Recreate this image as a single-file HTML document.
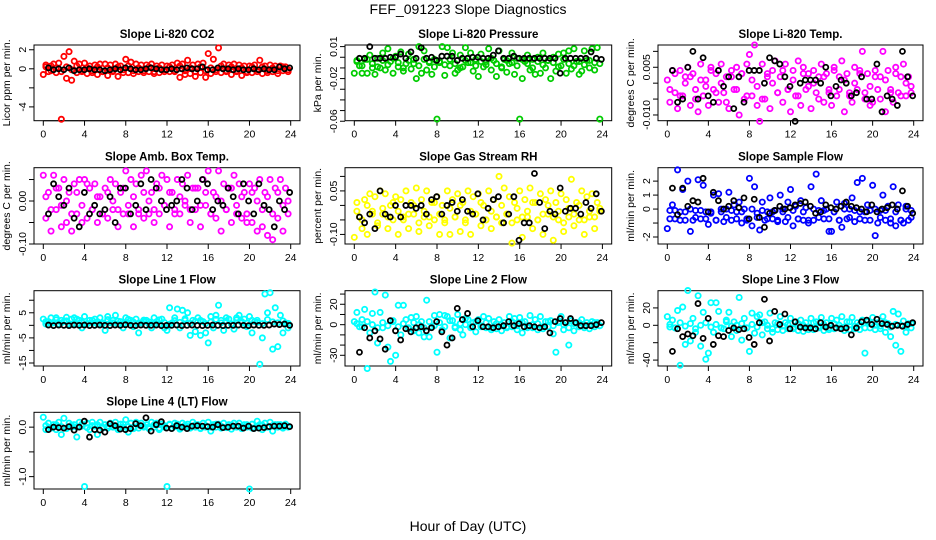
<!DOCTYPE html>
<html><head><meta charset="utf-8"><style>
html,body{margin:0;padding:0;background:#fff;}
svg{display:block;font-family:"Liberation Sans",Arial,sans-serif;}
</style></head><body>
<svg id="chart" width="936" height="540" viewBox="0 0 936 540">
<rect width="936" height="540" fill="#fff"/>
<text x="468" y="14" text-anchor="middle" font-size="14">FEF_091223  Slope Diagnostics</text>
<text x="468" y="531" text-anchor="middle" font-size="14">Hour of Day (UTC)</text>
</svg>
<script>
const xTicks = [0,4,8,12,16,20,24];
const co2C = [-0.6,0.4,-0.3,0.3, 0.5,-0.4,0.6,-5.3, 1.3,-1.0,1.8,-1.2, 0.8,-0.4,0.5,-0.3, 0.6,-0.5,0.3,-0.4, 0.4,-0.6,0.5,-0.3, 0.5,-0.7,0.4,-0.3, 0.5,-0.8,0.3,-0.4, 1.0,-0.4,0.7,-0.5, 0.5,-0.3,0.4,-0.4, 0.4,-0.3,0.5,-0.5, 0.3,-0.4,0.4,-0.3, 0.3,-0.3,0.4,-0.3, 0.6,-0.9,0.5,-0.6, 0.9,-0.5,0.4,-0.8, 0.5,-0.4,0.6,-0.9, 1.6,-0.5,1.0,-0.3, 2.2,-0.4,0.5,-0.3, 0.4,-0.6,0.5,-0.3, 0.4,-0.7,0.3,-0.4, 0.3,-0.4,0.4,-0.3, 0.9,-0.5,0.3,-0.4, 0.4,-0.3,0.3,-0.5, 0.3,-0.2,0.2,-0.3];
const co2B = [0.2,-0.2,0.1,-0.3,0.2,-0.1,0.3,-0.2,0.1,-0.2,0.2,-0.3,0.1,-0.2,0.2,-0.1,0.3,-0.2,0.1,-0.2,0.2,-0.3,0.1,-0.1,0.2,-0.2,0.3,-0.2,0.1,-0.3,0.2,-0.2,0.1,-0.1,0.3,-0.2,0.2,-0.2,0.1,-0.3,0.2,-0.1,0.2,-0.2,0.1,-0.2,0.2,-0.1];
const co2K = [0.1,-0.1,0,-0.1,0.1,-0.2,-0.1,-0.1,0,-0.1,-0.1,-0.2,-0.1,0,-0.1,0.1,0,-0.1,-0.1,0,0.1,0,-0.1,-0.1,0,-0.1,0,0.1,0,0,0.2,-0.1,-0.1,0.1,0,0,-0.1,0,-0.1,-0.1,0,-0.1,0,-0.1,-0.1,0.2,0,0.1];
const presC = [-0.015,-0.003,-0.008,-0.015, -0.002,-0.015,0.002,-0.010, -0.016,-0.001,-0.010,0.004, -0.012,0.008,-0.004,-0.015, 0.001,-0.009,0.005,-0.013, -0.006,0.003,-0.011,-0.002, -0.020,0.010,-0.015,0.006, -0.012,-0.004,-0.016,-0.002, -0.058,-0.005,0.010,-0.017, 0.009,-0.008,0.004,-0.015, -0.012,0.002,-0.009,0.009, -0.005,0.004,-0.013,-0.002, -0.018,0.003,-0.009,-0.004, 0.008,-0.012,-0.003,-0.018, 0.006,-0.010,-0.002,-0.014, -0.006,0.004,-0.016,-0.001, -0.058,-0.020,-0.004,0.002, -0.012,-0.002,-0.016,0.000, -0.015,0.004,-0.010,-0.003, -0.020,0.000,-0.013,0.003, -0.008,0.004,-0.015,0.006, -0.011,0.008,-0.004,-0.016, -0.013,0.006,-0.003,-0.010, 0.008,-0.012,0.009,-0.058];
const presB = [-0.004,-0.008,-0.002,-0.006,-0.009,-0.003,-0.007,-0.001,-0.005,-0.010,-0.003,-0.006,-0.008,-0.002,-0.005,-0.009,-0.004,-0.007,-0.002,-0.006,-0.010,-0.003,-0.005,-0.008,-0.004,-0.007,-0.001,-0.006,-0.009,-0.003,-0.005,-0.008,-0.002,-0.006,-0.010,-0.004,-0.007,-0.003,-0.005,-0.009,-0.002,-0.006,-0.008,-0.004,-0.007,-0.003,-0.005,-0.006];
const presK = [-0.001,-0.001,0.010,-0.001,-0.001,-0.001,0.000,0.000,0.003,-0.001,0.005,-0.001,0.009,-0.001,0.000,-0.003,0.001,0.001,0.001,-0.003,-0.001,-0.001,0.000,0.000,-0.001,-0.001,0.002,0.006,-0.001,-0.001,0.001,-0.001,-0.001,-0.001,-0.001,-0.001,-0.001,-0.001,-0.001,-0.015,-0.001,-0.001,-0.001,-0.001,-0.001,0.005,-0.001,-0.002];
const tempC = [0.001,-0.006,0.004,-0.003, -0.008,0.004,-0.004,0.002, 0.005,-0.007,0.003,-0.002, -0.009,0.006,-0.004,0.001, -0.007,0.005,-0.002,0.003, -0.006,0.006,-0.003,0.002, -0.008,0.004,-0.002,0.005, -0.010,0.003,-0.005,0.006, 0.009,-0.004,0.012,-0.007, -0.012,0.006,-0.005,0.003, -0.008,0.004,0.007,-0.003, 0.002,-0.006,0.006,-0.002, -0.009,0.004,-0.004,0.007, -0.007,0.005,-0.002,0.003, -0.008,0.004,-0.003,0.002, 0.006,-0.006,0.003,-0.002, -0.007,0.005,-0.004,0.002, 0.007,-0.009,0.003,-0.003, -0.006,0.005,-0.002,0.004, 0.010,-0.005,0.003,-0.007, -0.006,0.004,-0.002,0.002, 0.010,-0.009,0.004,-0.003, -0.006,0.005,-0.003,0.002, 0.006,-0.004,0.002,-0.003];
const tempB = [-0.002,0.003,-0.004,0.000,0.002,-0.005,0.001,-0.001,0.004,-0.003,0.000,-0.006,0.002,-0.002,0.003,-0.004,0.001,-0.001,-0.005,0.002,0.000,-0.003,0.004,-0.002,0.001,-0.004,0.003,-0.001,0.000,-0.005,0.002,-0.003,0.004,-0.002,0.001,-0.004,0.000,0.003,-0.003,-0.001,0.002,-0.005,0.001,-0.002,0.003,-0.004,0.000,-0.001];
const tempK = [0.004,-0.006,-0.005,0.005,0.010,-0.005,0.008,-0.004,-0.006,0.004,-0.001,0.002,-0.008,0.002,-0.006,0.004,0.004,0.004,0.000,0.008,0.007,0.006,0.002,-0.001,-0.012,0.000,0.001,0.001,0.001,0.000,0.005,-0.004,-0.001,0.001,0.000,-0.004,-0.003,0.002,-0.005,-0.005,0.006,-0.009,-0.004,-0.005,-0.007,0.010,0.002,-0.004];
const boxC = [0.06,-0.04,0.02,-0.07, 0.06,-0.02,0.03,-0.06, 0.05,-0.05,0.02,-0.07, 0.04,-0.03,0.05,-0.05, 0.05,-0.04,0.03,-0.02, 0.04,-0.05,0.01,-0.03, 0.03,-0.04,0.05,-0.02, 0.04,-0.06,0.02,-0.03, 0.07,-0.03,0.05,-0.06, 0.04,-0.02,0.06,-0.04, 0.07,-0.03,0.02,-0.05, 0.04,-0.03,0.06,-0.01, 0.05,-0.06,0.02,-0.02, 0.05,-0.03,0.04,-0.01, 0.06,-0.05,0.03,-0.02, 0.03,-0.06,0.05,-0.01, 0.07,-0.03,0.02,-0.04, 0.07,-0.07,0.04,-0.02, 0.03,-0.05,0.06,-0.03, 0.04,-0.04,0.02,-0.05, 0.04,-0.05,0.03,-0.07, 0.05,-0.06,0.02,-0.08, 0.05,-0.09,0.03,-0.04, 0.05,-0.07,0.03,-0.03];
const boxB = [0.01,-0.02,0.03,-0.01,0.00,-0.03,0.02,-0.01,0.04,-0.02,0.01,-0.03,0.02,0.00,-0.02,0.03,-0.01,0.01,-0.03,0.02,0.00,-0.02,0.03,-0.01,0.02,-0.03,0.01,0.00,-0.02,0.03,-0.01,0.02,-0.03,0.01,0.00,-0.02,0.03,-0.01,0.01,-0.03,0.02,0.00,-0.02,0.01,-0.03,0.02,-0.01,0.00];
const boxK = [-0.03,0.04,0.01,-0.01,0.03,-0.04,-0.06,0.02,-0.03,-0.01,-0.03,-0.02,0.01,-0.05,0.03,0.03,-0.03,-0.01,0.04,-0.02,0.05,0.03,0.00,-0.02,-0.01,0.00,0.05,0.03,-0.02,0.00,0.05,0.04,-0.02,0.00,-0.01,0.03,0.01,-0.03,0.04,0.00,-0.03,0.04,-0.01,-0.02,-0.06,0.00,-0.02,0.02];
const rhC = [-0.11,0.01,-0.04,-0.08, 0.02,-0.10,0.04,-0.02, 0.03,-0.07,0.05,-0.03, 0.04,-0.08,0.00,-0.05, 0.03,-0.10,0.02,-0.04, 0.05,-0.08,0.01,-0.03, 0.06,-0.09,0.02,-0.04, 0.05,-0.07,0.01,-0.05, 0.03,-0.10,0.00,-0.06, 0.05,-0.10,0.02,-0.04, 0.04,-0.09,0.01,-0.05, 0.05,-0.10,0.03,-0.03, 0.04,-0.07,0.00,-0.05, 0.05,-0.08,0.02,-0.04, 0.10,-0.06,0.06,-0.03, 0.03,-0.13,0.01,-0.05, 0.05,-0.11,0.02,-0.04, 0.06,-0.08,0.01,-0.05, 0.04,-0.10,0.02,-0.03, 0.05,-0.12,0.01,-0.05, 0.04,-0.09,0.02,-0.04, 0.09,-0.07,0.01,-0.05, 0.05,-0.10,0.03,-0.04, 0.04,-0.08,0.01,-0.02];
const rhB = [-0.02,-0.05,0.00,-0.03,-0.06,-0.01,-0.04,0.01,-0.02,-0.05,-0.03,0.00,-0.06,-0.02,-0.04,0.01,-0.03,-0.05,-0.01,-0.04,0.00,-0.06,-0.02,-0.03,0.01,-0.05,-0.02,-0.04,0.00,-0.03,-0.06,-0.01,-0.04,-0.02,0.01,-0.05,-0.03,0.00,-0.04,-0.02,-0.06,-0.01,-0.03,0.00,-0.05,-0.02,-0.04,-0.01];
const rhK = [-0.04,-0.06,-0.03,-0.08,0.05,-0.03,-0.04,0.00,-0.04,0.00,0.00,-0.01,0.00,-0.03,0.02,0.03,-0.03,0.00,0.01,-0.02,0.02,-0.02,-0.03,0.04,-0.05,-0.01,0.02,0.03,-0.06,-0.03,0.03,-0.12,-0.06,-0.06,0.11,0.01,-0.08,-0.02,-0.03,0.06,-0.02,-0.01,-0.01,-0.03,0.01,-0.01,0.04,-0.02];
const flowC = [-1.4,-0.7,0.3,-0.1, 2.8,-0.8,1.4,-0.2, 2.0,-1.6,-0.8,-0.1, 2.1,-0.7,1.7,-0.2, -1.1,-0.3,1.0,-0.8, 1.1,-0.2,-0.9,0.0, 1.2,-0.8,0.3,-0.2, 0.5,-1.0,0.0,-0.7, 2.2,-1.2,1.6,-0.3, -1.5,0.5,-0.8,-0.2, 0.8,-0.7,-0.1,-0.9, 1.0,-0.2,-0.9,0.5, 1.4,-1.2,0.2,-0.7, 0.6,-0.8,0.1,-1.0, 1.6,-0.8,2.5,-0.1, 0.6,-0.7,0.0,-1.6, -1.6,-0.2,0.5,-0.8, -1.3,0.4,-0.7,0.0, 0.8,-0.9,1.9,-0.2, 2.2,-0.8,0.3,-0.1, 1.7,-1.9,-1.0,-0.1, 1.0,-0.8,0.2,-1.0, 1.6,-1.2,0.3,-0.8, -1.0,0.2,-0.8,-0.1];
const flowB = [-0.1,-0.7,-0.2,-0.8,0.0,-0.6,-0.1,-0.7,-0.2,-0.8,0.0,-0.6,-0.1,-0.7,-0.2,-0.8,0.0,-0.6,-0.1,-0.7,-0.2,-0.8,0.0,-0.6,-0.1,-0.7,-0.2,-0.8,0.0,-0.6,-0.1,-0.7,-0.2,-0.8,0.0,-0.6,-0.1,-0.7,-0.2,-0.8,0.0,-0.6,-0.1,-0.7,-0.2,-0.8,0.0,-0.6];
const flowK = [1.5,-0.4,1.5,0.2,0.6,0.5,2.2,-0.2,1.2,0.6,0.0,0.2,0.6,0.1,0.8,-0.7,0.7,-0.6,-1.3,-0.3,-0.1,0.2,0.0,0.1,0.3,0.4,0.5,0.2,-0.3,-0.2,0.3,0.1,0.0,0.2,0.5,0.2,0.1,0.0,-0.2,0.3,-0.2,0.0,0.1,0.3,0.0,1.3,0.2,-0.3];
const l1C = [2.5,0.5,1.5,3.0, 1.0,3.0,0.5,2.0, 1.5,3.2,0.5,2.5, 3.0,0.5,2.0,-1.0, 3.5,0.5,2.0,1.0, 2.5,0.5,3.0,1.0, -2.0,3.5,1.0,2.0, 4.0,0.5,1.5,-1.0, 3.0,1.0,2.0,-0.5, 2.5,-3.0,1.0,1.5, 2.0,0.5,-1.0,3.0, 1.5,0.5,2.5,-1.0, -2.0,7.0,1.0,3.0, 6.5,-1.0,6.0,2.0, 5.0,-4.0,2.0,-2.5, 3.0,-4.0,1.5,-3.0, -7.0,3.5,-1.0,4.0, 8.0,2.0,-2.0,3.0, 2.5,0.5,-1.5,3.0, 4.0,1.0,2.5,-0.5, 3.5,-3.0,1.5,2.0, -15.5,-5.0,12.5,5.0, 13.0,-9.5,7.0,-8.5, 4.0,-3.0,1.0,-1.0];
const l1B = [1.5,0.8,2.2,1.0,1.8,0.5,2.5,1.2,0.8,2.0,1.5,0.6,2.3,1.0,1.7,0.7,2.4,1.3,0.9,2.1,1.4,0.6,2.2,1.1,0.5,1.9,1.2,2.6,0.8,1.6,2.0,0.7,1.3,2.4,1.0,1.8,0.6,2.2,1.5,0.9,2.0,1.2,0.7,2.3,1.4,1.0,1.8,0.8];
const l1K = [0.1,-0.1,0.1,0,-0.1,0.1,0,0.1,-0.1,0,0.1,0,-0.1,0.1,0,0.2,0,-0.1,0.1,0,0,0.1,-0.1,0,0,0.1,-0.1,0,0.1,0,-0.1,0,0.1,0,-0.1,0,0,0.1,0,-0.1,0.1,0,0,0.1,0.5,0.3,0.5,0];
const l2C = [3,12,-2,5, 15,-43,-8,11, 32,-18,12,-3, 29,-22,-36,3, -30,19,-10,19, 5,-3,7,-6, 8,-8,3,-12, 24,-12,-2,9, -27,10,-5,9, 8,-13,4,-2, 10,-5,-10,6, 5,-3,2,-7, 5,-2,8,-3, 6,-5,3,-4, 5,-6,2,-3, 8,-2,6,-5, 7,-8,3,-2, 9,-3,5,-5, 8,-4,3,-2, 4,-9,-27,3, 8,-5,2,-20, 4,-6,2,-2, 5,-3,2,-4, 3,-2,2,-1];
const l2B = [1,-2,3,0,-3,2,-1,4,-2,1,-4,2,0,-3,3,-1,2,-2,4,-3,1,0,-2,3,-1,2,-3,1,0,-2,3,-1,2,-3,0,1,-2,3,-1,2,0,-3,1,2,-1,0,2,-1];
const l2K = [-27,-3,-13,-6,-14,-24,4,-6,-15,-4,-7,-3,-2,-6,-3,3,-7,-20,-13,16,5,11,-2,4,-2,-2,-3,-2,-1,3,-1,1,-2,-1,-2,-3,-2,-8,3,6,2,6,2,-1,-1,-1,0,2];
const l3C = [10,-2,6,-3, 17,-46,21,-22, 40,-18,8,-8, 34,-24,15,-39, -32,26,-8,26, 16,-3,-4,6, 15,-13,4,-6, 32,-17,8,-3, -30,14,-9,10, 12,-11,4,-4, 14,-8,3,-5, 10,-6,3,-4, 8,-4,4,-6, 6,-7,3,-5, 8,-5,4,-3, 9,-6,3,-5, 8,-4,6,-3, 10,-6,4,-5, 9,-4,3,-5, 6,-32,4,-3, 9,-5,3,-4, 10,-8,2,-13, 16,-23,13,-30, 5,-8,2,-3];
const l3B = [1,-3,3,-1,2,-4,0,3,-2,1,-3,4,-1,0,2,-3,1,-2,3,0,-4,2,-1,1,-3,2,0,-2,3,-1,1,-3,2,0,-2,4,-1,1,-3,2,0,-1,3,-2,1,0,-1,2];
const l3K = [-30,-4,-13,-10,-12,25,-15,8,-22,-12,-13,-6,-3,-5,-4,-14,-22,3,30,-18,16,1,13,-4,4,-2,-3,-3,-4,3,-2,0,-3,-4,-3,-11,-3,4,6,1,7,2,1,-1,0,-1,1,3];
const l4C = [0.2,-0.05,0.08,0.0, 0.05,-0.05,0.1,-0.15, 0.18,-0.02,0.08,0.0, 0.05,-0.2,0.1,0.02, -1.2,0.08,-0.05,0.1, 0.02,-0.15,0.1,0.0, 0.05,-0.02,0.08,0.0, 0.1,-0.05,0.06,0.0, 0.15,-0.1,0.08,0.0, 0.1,-0.02,0.08,0.0, 0.05,-0.03,0.1,0.0, 0.08,-0.05,0.06,0.0, -1.2,0.05,-0.02,0.08, 0.06,-0.04,0.08,0.0, 0.06,-0.02,0.1,0.0, 0.05,-0.03,0.08,0.0, 0.1,-0.08,0.05,0.0, 0.06,-0.02,0.08,0.0, 0.05,-0.04,0.08,0.0, 0.08,-0.03,0.05,0.0, -1.25,0.06,-0.02,0.12, 0.05,-0.05,0.08,0.0, 0.1,-0.08,0.05,0.0, 0.05,-0.02,0.06,0.0];
const l4B = [0.03,-0.02,0.05,0.01,-0.03,0.04,0.0,0.06,-0.01,0.03,0.05,-0.02,0.02,0.04,-0.01,0.06,0.01,-0.03,0.04,0.02,0.0,0.05,-0.02,0.03,0.06,0.01,-0.01,0.04,0.02,0.05,-0.02,0.03,0.0,0.06,0.02,-0.01,0.04,0.03,0.01,0.05,-0.02,0.02,0.04,0.0,0.03,0.05,0.01,0.02];
const l4K = [-0.05,0.0,-0.01,-0.02,0.01,-0.06,0.0,0.12,-0.2,-0.05,-0.06,-0.1,0.07,0.03,-0.04,-0.05,-0.03,0.07,0.03,0.19,-0.08,0.05,0.11,-0.02,-0.03,0.03,0.0,-0.03,0.02,0.03,0.02,0.01,0.0,0.05,-0.01,0.0,0.02,0.02,-0.02,0.02,-0.03,-0.02,-0.01,0.01,0.02,0.02,0.03,0.01];

const panels = [
 {name:'co2',title:'Slope Li-820 CO2',ylab:'Licor ppm per min.',col:0,row:0,y0:-5.45,y1:2.5,ticks:[2,0,-2,-4],labels:['2','0','','-4'],color:'#ff0000',c:co2C,b:co2B,k:co2K},
 {name:'pressure',title:'Slope Li-820 Pressure',ylab:'kPa per min.',col:1,row:0,y0:-0.0595,y1:0.0115,ticks:[0.01,0,-0.01,-0.02,-0.03,-0.04,-0.05,-0.06],labels:['0.01','','','-0.02','','','','-0.06'],color:'#00cc00',c:presC,b:presB,k:presK},
 {name:'li820-temp',title:'Slope Li-820 Temp.',ylab:'degrees C per min.',col:2,row:0,y0:-0.0118,y1:0.012,ticks:[0.01,0.005,0,-0.005,-0.01],labels:['','0.005','','','-0.010'],color:'#ff00ff',c:tempC,b:tempB,k:tempK},
 {name:'amb-box-temp',title:'Slope Amb. Box Temp.',ylab:'degrees C per min.',col:0,row:1,y0:-0.1,y1:0.0775,ticks:[0.05,0,-0.05,-0.1],labels:['','0.00','','-0.10'],color:'#ff00ff',c:boxC,b:boxB,k:boxK},
 {name:'gas-rh',title:'Slope Gas Stream RH',ylab:'percent per min.',col:1,row:1,y0:-0.133,y1:0.13,ticks:[0.1,0.05,0,-0.05,-0.1],labels:['','0.05','','','-0.10'],color:'#ffff00',c:rhC,b:rhB,k:rhK},
 {name:'sample-flow',title:'Slope Sample Flow',ylab:'ml/min per min.',col:2,row:1,y0:-2.5,y1:2.96,ticks:[2,1,0,-1,-2],labels:['2','1','0','','-2'],color:'#0000ff',c:flowC,b:flowB,k:flowK},
 {name:'line1-flow',title:'Slope Line 1 Flow',ylab:'ml/min per min.',col:0,row:2,y0:-16.2,y1:13.8,ticks:[10,5,0,-5,-10,-15],labels:['','5','','-5','','-15'],color:'#00ffff',c:l1C,b:l1B,k:l1K},
 {name:'line2-flow',title:'Slope Line 2 Flow',ylab:'ml/min per min.',col:1,row:2,y0:-40.5,y1:33.3,ticks:[30,20,10,0,-10,-20,-30],labels:['','20','','0','','','-30'],color:'#00ffff',c:l2C,b:l2B,k:l2K},
 {name:'line3-flow',title:'Slope Line 3 Flow',ylab:'ml/min per min.',col:2,row:2,y0:-46.8,y1:39.8,ticks:[20,0,-20,-40],labels:['20','0','','-40'],color:'#00ffff',c:l3C,b:l3B,k:l3K},
 {name:'line4-flow',title:'Slope Line 4 (LT) Flow',ylab:'ml/min per min.',col:0,row:3,y0:-1.25,y1:0.3,ticks:[0,-0.5,-1],labels:['0.0','','-1.0'],color:'#00ffff',c:l4C,b:l4B,k:l4K}
];
const colL=[34,345,658], colR=[300,611.7,923];
const rowT=[45,167.7,290.7,412.3], rowB=[120.7,244,366,489];
const NS='http://www.w3.org/2000/svg';
const svg=document.getElementById('chart');
function mk(tag,attrs,parent){const e=document.createElementNS(NS,tag);for(const a in attrs)e.setAttribute(a,attrs[a]);parent.appendChild(e);return e;}
panels.forEach(p=>{
 const L=colL[p.col],R=colR[p.col],T=rowT[p.row],B=rowB[p.row];
 const xa=L+9.3,xb=R-9.3;
 const sx=v=>xa+(v/24)*(xb-xa);
 const sy=v=>B-(v-p.y0)/(p.y1-p.y0)*(B-T);
 const g=mk('g',{},svg);
 
 
 const t=mk('text',{x:(L+R)/2,y:T-7,'text-anchor':'middle','font-size':'11.5','font-weight':'bold'},g);
 t.textContent=p.title;
 
 
 const yl=mk('text',{x:0,y:0,'text-anchor':'middle','font-size':'10.5',transform:`translate(${L-24},${(T+B)/2}) rotate(-90)`},g);
 yl.textContent=p.ylab;
 
 
 const box=mk('rect',{x:L,y:T,width:R-L,height:B-T,fill:'none',stroke:'#000','stroke-width':1},g);
 
 
 const xax=mk('g',{},g);
 
 
 mk('line',{x1:sx(0),x2:sx(24),y1:B,y2:B,stroke:'#000'},xax);
 xTicks.forEach(v=>{
  mk('line',{x1:sx(v),x2:sx(v),y1:B,y2:B+5,stroke:'#000'},xax);
  const tl=mk('text',{x:sx(v),y:B+17,'text-anchor':'middle','font-size':'10.5'},xax);
  tl.textContent=v;
  
  
 });
 const yax=mk('g',{},g);
 
 
 const tk=p.ticks.filter(v=>v>=p.y0-1e-9&&v<=p.y1+1e-9);
 mk('line',{x1:L,x2:L,y1:sy(Math.max(...tk)),y2:sy(Math.min(...tk)),stroke:'#000'},yax);
 p.ticks.forEach((v,i)=>{
  const yy=Math.min(Math.max(sy(v),T-1),B+1);
  mk('line',{x1:L-5,x2:L,y1:yy,y2:yy,stroke:'#000'},yax);
  if(p.labels[i]){
   const tl=mk('text',{x:0,y:0,'text-anchor':'middle','font-size':'10.5',transform:`translate(${L-8},${yy}) rotate(-90)`},yax);
   tl.textContent=p.labels[i];
   
   
  }
 });
 const pc=mk('g',{fill:'none',stroke:p.color,'stroke-width':1.8},g);
 
 
 p.c.forEach((v,i)=>{
  const c=mk('circle',{cx:sx(i*24/p.c.length),cy:sy(v),r:2.6},pc);
  
  
 });
 p.b.forEach((v,i)=>{
  const c=mk('circle',{cx:sx((i+0.5)*24/p.b.length),cy:sy(v),r:2.6},pc);
  
  
 });
 const pk=mk('g',{fill:'none',stroke:'#000','stroke-width':1.8},g);
 
 
 p.k.forEach((v,i)=>{
  const c=mk('circle',{cx:sx(0.5+i*23.4/(p.k.length-1)),cy:sy(v),r:2.5},pk);
  
  
 });
});
</script>
</body></html>
